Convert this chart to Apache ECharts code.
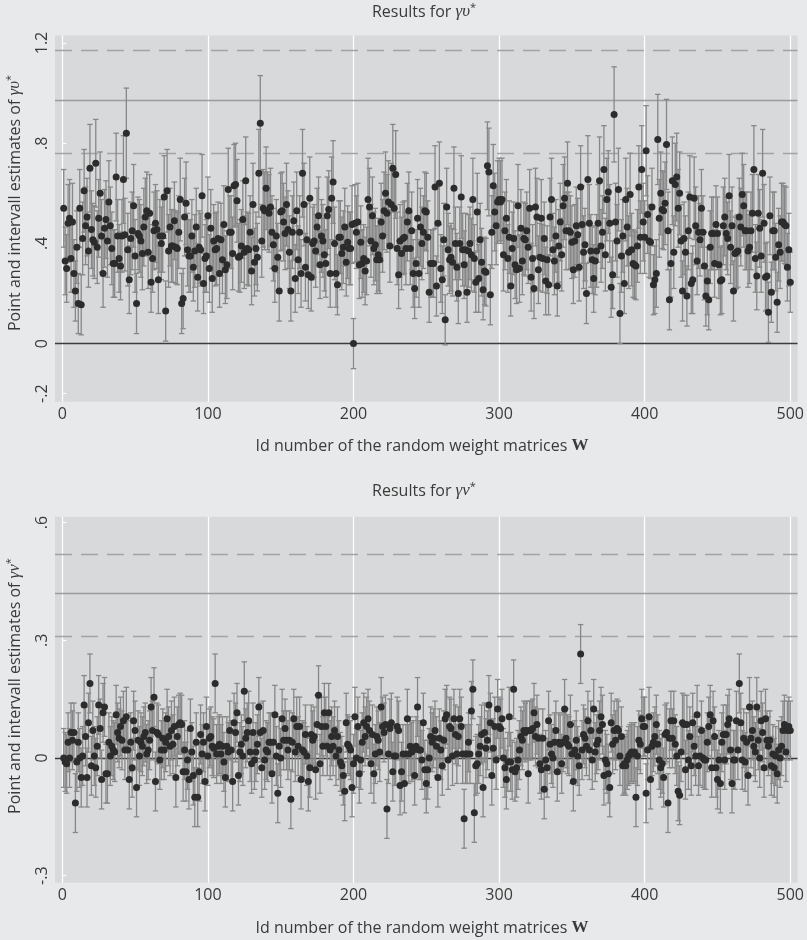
<!DOCTYPE html>
<html><head><meta charset="utf-8">
<script src="https://cdn.jsdelivr.net/npm/echarts@6/dist/echarts.min.js"></script>
<style>html,body{margin:0;padding:0;background:#e8e9ea}#c{width:807px;height:940px}</style>
</head><body><div id="c"></div>
<script>
// ---- data (ids 1..500) ----
const topValues = [
.54,.33,.30,.48,.50,.34,.485,.28,.21,.385,
.16,.54,.155,.42,.61,.47,.505,.37,.70,.455,
.415,.405,.72,.385,.50,.60,.43,.28,.46,.495,
.41,.565,.47,.38,.32,.32,.665,.43,.34,.31,
.43,.655,.435,.84,.375,.255,.42,.45,.55,.35,
.16,.44,.43,.41,.36,.465,.505,.53,.365,.52,
.245,.34,.45,.48,.455,.255,.43,.40,.43,.585,
.13,.61,.37,.465,.39,.39,.49,.385,.38,.445,
.575,.16,.18,.505,.56,.375,.35,.35,.43,.305,
.37,.465,.265,.385,.375,.59,.24,.34,.35,.51,
.30,.46,.26,.41,.375,.38,.42,.28,.415,.335,
.475,.295,.315,.615,.445,.445,.36,.63,.635,.57,
.345,.35,.39,.495,.365,.65,.38,.375,.445,.29,
.555,.325,.38,.345,.68,.88,.41,.54,.53,.62,
.53,.52,.545,.445,.395,.30,.43,.345,.21,.525,
.53,.485,.44,.555,.455,.365,.21,.445,.49,.26,
.53,.335,.445,.28,.68,.555,.305,.415,.275,.58,
.265,.40,.41,.37,.465,.51,.315,.43,.41,.355,
.32,.51,.535,.28,.58,.645,.40,.28,.235,.425,
.425,.36,.385,.465,.325,.405,.38,.38,.475,0,
.48,.445,.485,.315,.405,.32,.34,.29,.33,.575,
.545,.41,.51,.38,.395,.335,.355,.335,.485,.43,
.53,.60,.52,.565,.39,.555,.70,.54,.675,.38,
.275,.41,.36,.42,.425,.38,.485,.53,.38,.45,
.28,.22,.32,.50,.28,.465,.40,.445,.53,.525,
.425,.205,.32,.32,.32,.625,.23,.48,.64,.30,
.255,.415,.095,.545,.375,.335,.345,.325,.62,.40,
.305,.20,.40,.585,.375,.315,.375,.205,.37,.40,
.355,.575,.34,.245,.525,.26,.415,.325,.215,.29,
.285,.71,.685,.195,.445,.63,.525,.47,.565,.575,
.565,.575,.355,.45,.50,.34,.425,.23,.38,.42,
.315,.295,.55,.30,.46,.33,.42,.415,.45,.385,
.54,.265,.34,.22,.545,.505,.295,.345,.50,.34,
.42,.25,.335,.235,.505,.575,.375,.33,.43,.23,
.39,.485,.355,.55,.58,.45,.64,.45,.445,.405,
.295,.41,.47,.435,.305,.625,.475,.365,.395,.20,
.655,.48,.37,.335,.26,.33,.37,.48,.65,.39,
.445,.695,.355,.575,.605,.48,.225,.275,.915,.485,
.41,.615,.12,.35,.43,.24,.575,.465,.365,.595,
.375,.32,.315,.31,.39,.625,.425,.695,.485,.425,
.77,.515,.41,.405,.545,.235,.255,.28,.815,.50,
.60,.535,.53,.56,.795,.45,.175,.32,.65,.365,
.635,.665,.54,.60,.41,.21,.42,.365,.19,.45,
.585,.24,.255,.58,.47,.33,.445,.415,.54,.445,
.31,.19,.25,.175,.385,.44,.44,.32,.475,.44,
.315,.25,.255,.47,.505,.44,.42,.59,.385,.47,
.21,.36,.365,.37,.505,.465,.595,.55,.45,.45,
.37,.385,.45,.52,.695,.34,.27,.52,.46,.35,
.68,.48,.265,.27,.125,.51,.205,.45,.45,.345,
.165,.395,.365,.485,.485,.475,.47,.305,.375,.245
];
const topHalfWidths = [
.155,.135,.135,.155,.155,.135,.155,.135,.12,.145,
.12,.155,.12,.145,.165,.155,.155,.145,.175,.155,
.145,.145,.175,.145,.155,.165,.145,.135,.155,.155,
.145,.165,.155,.145,.135,.135,.175,.145,.135,.135,
.145,.175,.145,.18,.145,.135,.145,.155,.165,.145,
.12,.145,.145,.145,.145,.155,.155,.155,.145,.155,
.12,.135,.155,.155,.155,.135,.145,.145,.145,.165,
.12,.165,.145,.155,.145,.145,.155,.145,.145,.145,
.165,.12,.12,.155,.165,.145,.145,.145,.145,.135,
.145,.155,.135,.145,.145,.165,.12,.135,.145,.155,
.135,.155,.135,.145,.145,.145,.145,.135,.145,.135,
.155,.135,.135,.165,.145,.145,.145,.165,.165,.165,
.135,.145,.145,.155,.145,.175,.145,.145,.145,.135,
.165,.135,.145,.135,.175,.19,.145,.155,.155,.165,
.155,.155,.155,.145,.145,.135,.145,.135,.12,.155,
.155,.155,.145,.165,.155,.145,.12,.145,.155,.135,
.155,.135,.145,.135,.175,.165,.135,.145,.135,.165,
.135,.145,.145,.145,.155,.155,.135,.145,.145,.145,
.135,.155,.155,.135,.165,.165,.145,.135,.12,.145,
.145,.145,.145,.155,.135,.145,.145,.145,.155,.10,
.155,.145,.155,.135,.145,.135,.135,.135,.135,.165,
.155,.145,.155,.145,.145,.135,.145,.135,.155,.145,
.155,.165,.155,.165,.145,.165,.175,.155,.175,.145,
.135,.145,.145,.145,.145,.145,.155,.155,.145,.155,
.135,.12,.135,.155,.135,.155,.145,.145,.155,.155,
.145,.12,.135,.135,.135,.165,.12,.155,.165,.135,
.135,.145,.10,.155,.145,.135,.135,.135,.165,.145,
.135,.12,.145,.165,.145,.135,.145,.12,.145,.145,
.145,.165,.135,.12,.155,.135,.145,.135,.12,.135,
.135,.175,.175,.12,.145,.165,.155,.155,.165,.165,
.165,.165,.145,.155,.155,.135,.145,.12,.145,.145,
.135,.135,.165,.135,.155,.135,.145,.145,.155,.145,
.155,.135,.135,.12,.155,.155,.135,.135,.155,.135,
.145,.135,.135,.12,.155,.165,.145,.135,.145,.12,
.145,.155,.145,.165,.165,.155,.165,.155,.145,.145,
.135,.145,.155,.145,.135,.165,.155,.145,.145,.12,
.175,.155,.145,.135,.135,.135,.145,.155,.175,.145,
.145,.175,.145,.165,.165,.155,.12,.135,.19,.155,
.145,.165,.12,.145,.145,.12,.165,.155,.145,.165,
.145,.135,.135,.135,.145,.165,.145,.175,.155,.145,
.18,.155,.145,.145,.155,.12,.135,.135,.18,.155,
.165,.155,.155,.165,.18,.155,.12,.135,.175,.145,
.165,.175,.155,.165,.145,.12,.145,.145,.12,.155,
.165,.12,.135,.165,.155,.135,.145,.145,.155,.145,
.135,.12,.135,.12,.145,.145,.145,.135,.155,.145,
.135,.135,.135,.155,.155,.145,.145,.165,.145,.155,
.12,.145,.145,.145,.155,.155,.165,.165,.155,.155,
.145,.145,.155,.155,.175,.135,.135,.155,.155,.145,
.175,.155,.135,.135,.12,.155,.12,.155,.155,.135,
.12,.145,.145,.155,.155,.155,.155,.135,.145,.12
];
const bottomValues = [
0,-.01,-.015,.04,0,.065,.045,.065,-.115,-.01,
.04,0,-.05,.005,.135,.055,-.05,.09,.19,-.02,
.07,.005,-.025,.03,.135,.075,-.055,.115,.13,-.04,
-.04,.04,.005,.03,.02,.015,.11,.065,.05,.08,
.045,.095,.02,.105,.02,-.055,.04,-.025,.095,.07,
-.075,.045,.005,.04,.03,.055,.065,.01,.02,.045,
.13,.07,.155,-.06,.065,.06,-.005,.02,.05,.02,
.04,.10,.055,.03,.07,.035,.08,-.05,.055,.085,
.09,.085,-.035,.02,-.035,-.005,-.055,.075,.015,-.045,
-.10,.04,-.10,-.035,.06,.01,.04,-.06,.08,.005,
.05,.055,.03,.025,.19,.01,.03,.035,.01,.03,
-.01,-.05,.03,.015,.07,.02,-.06,.09,.065,.115,
-.045,.015,.035,.005,.17,.05,.065,.095,.015,-.015,
.065,-.005,.015,.035,.13,.065,-.025,.07,-.005,.02,
.015,.04,.04,-.04,.04,.11,.005,-.09,.03,0,
.10,.045,.075,.045,.02,.045,-.105,.04,.10,.015,
.08,.03,.08,-.055,.02,.015,.06,.005,-.06,-.025,
.06,.045,.055,-.03,.085,.16,-.015,.08,.03,.115,
.08,.03,.115,.02,.055,.03,.07,.005,.055,.02,
-.01,-.02,-.045,-.085,.09,.035,.03,.02,-.075,-.015,
.105,0,.08,-.04,-.005,.04,.09,.055,.08,.10,
.07,-.015,.06,-.04,.01,.055,.045,.015,.13,.08,
.065,.085,-.13,.01,.075,.09,-.035,.005,.005,.08,
.07,-.07,-.035,.01,-.065,.01,.10,.01,.03,.015,
.02,-.045,.03,.13,.02,.02,-.005,.09,-.03,-.065,
-.03,0,.055,.04,.05,.07,.03,-.05,.05,.02,
-.02,.045,.10,.11,-.005,.08,.075,.005,.10,.06,
.01,.055,.10,.08,.01,-.155,.01,.01,.04,.01,
.12,.175,-.14,-.02,-.015,.01,.03,.06,-.075,.065,
.025,.045,.135,.09,-.045,.025,.08,-.005,.125,.08,
.075,.10,0,-.025,-.055,-.01,.105,-.01,-.03,.175,
-.035,-.025,-.005,.02,.055,.045,.07,.065,.07,-.04,
.07,.07,.075,.115,.055,.085,.05,-.015,-.03,.05,
-.08,-.005,-.025,.095,.035,.01,0,.04,.07,-.035,
.04,.035,-.015,.04,.125,.05,.035,.03,.085,.01,
-.06,.02,.045,.005,-.02,.265,.02,.06,.05,.03,
.095,.02,.07,-.005,.125,.015,.035,.045,.07,.105,
.085,-.045,-.005,-.015,-.04,-.075,.09,.035,.07,.045,
.075,.07,.005,.055,-.02,-.015,-.02,-.005,.005,.01,
.015,.01,.015,-.10,.005,.045,.035,.10,.08,.08,
-.09,.02,.105,-.055,.03,.04,.055,.085,.035,-.005,
-.025,-.015,-.05,.06,.065,-.115,.05,.095,.05,.095,
.035,.005,-.085,-.095,.015,.09,.085,-.03,.085,-.005,
.055,-.02,.09,.03,.005,.11,-.02,.005,.07,0,
-.005,-.005,.04,.08,.11,-.025,.095,.055,-.025,-.055,
-.005,-.065,.04,.06,-.005,.06,.085,.10,.02,-.065,
-.005,-.005,.095,.02,.19,.09,-.005,.05,-.01,.04,
-.045,.13,.05,.07,.03,.015,.13,.045,0,.095,
.065,-.025,.10,.045,.03,.045,-.02,.01,-.025,.005,
-.04,.02,0,.03,.07,.085,.015,.07,.08,.07
];
const bottomHalfWidth = 0.075;   // typical interval half-width
const topRefDashed = [1.174, 0.76];
const topRefSolid = [0.968];
const bottomRefDashed = [0.524, 0.313];
const bottomRefSolid = [0.418];
const xTickValues = [0, 100, 200, 300, 400, 500];
const topYTicks = [-0.2, 0, 0.4, 0.8, 1.2];
const topYTickLabels = ['-.2', '0', '.4', '.8', '1.2'];
const bottomYTicks = [-0.3, 0, 0.3, 0.6];
const bottomYTickLabels = ['-.3', '0', '.3', '.6'];
const panelTitles = ['Results for {g|γυ}{s|*}', 'Results for {g|γν}{s|*}'];
const yTitles = ['Point and intervall estimates of {g|γυ}{s|*}', 'Point and intervall estimates of {g|γν}{s|*}'];
const xTitle = 'Id number of the random weight matrices {b|W}';

// ---- build ----
const FONT = '"Open Sans", "DejaVu Sans", sans-serif';
const SERIF = '"Liberation Serif", "DejaVu Serif", serif';
const TXT = '#3a3a3a';
const richSym = {
  g: {fontFamily: SERIF, fontStyle: 'italic', fontSize: 17, fill: TXT, color: TXT},
  s: {fontFamily: FONT, fontSize: 11, fill: TXT, color: TXT, padding: [0, 0, 8, 0]},
  b: {fontFamily: SERIF, fontWeight: 'bold', fontSize: 17, fill: TXT, color: TXT}
};

const topPts = topValues.map((v, i) => [i + 1, v]);
const topBars = topValues.map((v, i) => [i + 1, v - topHalfWidths[i], v + topHalfWidths[i]]);
const bottomPts = bottomValues.map((v, i) => [i + 1, v]);
const bottomBars = bottomValues.map((v, i) => [i + 1, v - bottomHalfWidth, v + bottomHalfWidth]);

function errRender(params, api) {
  const x = api.value(0);
  const p1 = api.coord([x, api.value(1)]);
  const p2 = api.coord([x, api.value(2)]);
  const c = 2.7;
  const st = {stroke: '#878787', lineWidth: 1.3, fill: null};
  return {type: 'group', children: [
    {type: 'line', shape: {x1: p1[0], y1: p1[1], x2: p2[0], y2: p2[1]}, style: st},
    {type: 'line', shape: {x1: p1[0] - c, y1: p1[1], x2: p1[0] + c, y2: p1[1]}, style: st},
    {type: 'line', shape: {x1: p2[0] - c, y1: p2[1], x2: p2[0] + c, y2: p2[1]}, style: st}
  ]};
}

function refSeries(idx, dashed, solid) {
  const data = [];
  xTickValues.forEach(v => data.push({xAxis: v, lineStyle: {color: '#ffffff', width: 1.3, type: 'solid'}}));
  dashed.forEach(v => data.push({yAxis: v, lineStyle: {color: '#a3a3a3', width: 1.3, type: [17, 9]}}));
  solid.forEach(v => data.push({yAxis: v, lineStyle: {color: '#9c9c9c', width: 1.3, type: 'solid'}}));
  data.push({yAxis: 0, lineStyle: {color: '#3c3c3c', width: 1.4, type: 'solid'}});
  return {
    type: 'line', xAxisIndex: idx, yAxisIndex: idx, data: [], z: 1, silent: true,
    markLine: {silent: true, z: 1, symbol: ['none', 'none'], label: {show: false}, animation: false, data: data}
  };
}

function xAxis(idx) {
  return {
    type: 'value', gridIndex: idx, min: -5, max: 505,
    axisLine: {show: false}, axisTick: {show: false}, splitLine: {show: false},
    axisLabel: {customValues: xTickValues, fontFamily: FONT, fontSize: 16, color: TXT, margin: 5}
  };
}
function yAxis(idx, min, max, ticks, labels) {
  return {
    type: 'value', gridIndex: idx, min: min, max: max,
    axisLine: {show: false}, splitLine: {show: false},
    axisTick: {show: true, customValues: ticks, inside: true, length: 4, lineStyle: {color: '#ffffff', width: 1.2}},
    axisLabel: {customValues: ticks, rotate: 90, fontFamily: FONT, fontSize: 16, color: TXT, margin: 5,
      formatter: v => { const k = ticks.findIndex(t => Math.abs(t - v) < 1e-9); return k >= 0 ? labels[k] : ''; }}
  };
}
function txt(text, x, y, size, rot) {
  return {type: 'text', x: x, y: y, rotation: rot || 0, z: 10,
    style: {text: text, align: 'center', verticalAlign: 'middle', textAlign: 'center', textVerticalAlign: 'middle',
      fill: TXT, font: size + 'px ' + FONT, rich: richSym}};
}

const chart = echarts.init(document.getElementById('c'), null, {renderer: 'canvas'});
chart.setOption({
  animation: false,
  backgroundColor: '#e8e9ea',
  grid: [
    {left: 55, top: 35.5, width: 743, height: 366.2, show: true, backgroundColor: '#d8d9db', borderWidth: 0},
    {left: 55, top: 516.7, width: 743, height: 366, show: true, backgroundColor: '#d8d9db', borderWidth: 0}
  ],
  graphic: [
    txt(panelTitles[0], 424, 12, 16),
    txt(panelTitles[1], 424, 491, 16),
    txt(xTitle, 422, 446, 16),
    txt(xTitle, 422, 928, 16),
    txt(yTitles[0], 15, 203, 16, Math.PI / 2),
    txt(yTitles[1], 15, 686, 16, Math.PI / 2)
  ],
  xAxis: [xAxis(0), xAxis(1)],
  yAxis: [
    yAxis(0, -0.232, 1.230, topYTicks, topYTickLabels),
    yAxis(1, -0.318, 0.615, bottomYTicks, bottomYTickLabels)
  ],
  series: [
    refSeries(0, topRefDashed, topRefSolid),
    refSeries(1, bottomRefDashed, bottomRefSolid),
    {type: 'custom', xAxisIndex: 0, yAxisIndex: 0, data: topBars, renderItem: errRender, z: 2, silent: true,
      encode: {x: 0, y: [1, 2]}},
    {type: 'custom', xAxisIndex: 1, yAxisIndex: 1, data: bottomBars, renderItem: errRender, z: 2, silent: true,
      encode: {x: 0, y: [1, 2]}},
    {type: 'scatter', xAxisIndex: 0, yAxisIndex: 0, data: topPts, symbolSize: 7, z: 3, silent: true,
      itemStyle: {color: '#2c2c2c', opacity: 1}},
    {type: 'scatter', xAxisIndex: 1, yAxisIndex: 1, data: bottomPts, symbolSize: 7, z: 3, silent: true,
      itemStyle: {color: '#2c2c2c', opacity: 1}}
  ]
});
</script></body></html>
